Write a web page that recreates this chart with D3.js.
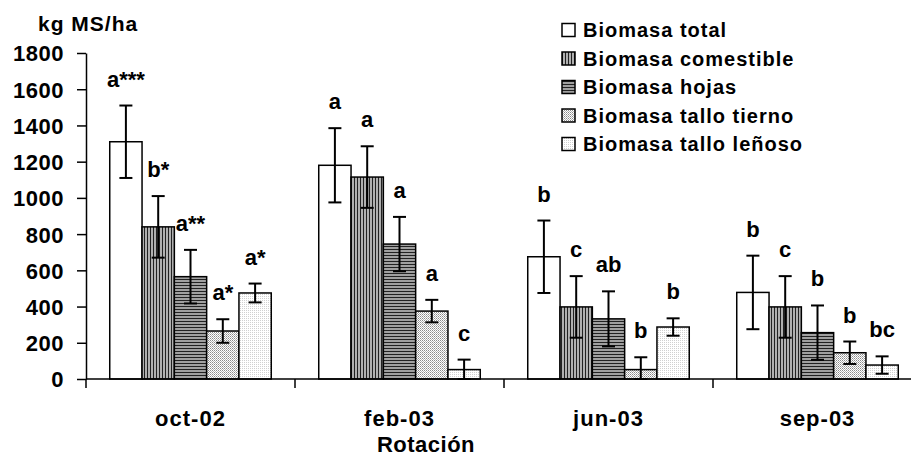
<!DOCTYPE html>
<html>
<head>
<meta charset="utf-8">
<script src="https://cdn.jsdelivr.net/npm/d3@7"></script>
<style>
  body{margin:0;background:#fff}
  text{font-family:"Liberation Sans",Arial,sans-serif;font-weight:bold;fill:#000}
</style>
</head>
<body>
<div id="chart"></div>
<script>
// data (kg MS/ha)
const dates=["oct-02","feb-03","jun-03","sep-03"]
const series=["Biomasa total","Biomasa comestible","Biomasa hojas","Biomasa tallo tierno","Biomasa tallo leñoso"]
const total=[1310,1180,675,478]
const totalErr=[200,205,200,203]
const comestible=[840,1115,398,398]
const comestibleErr=[170,170,170,170]
const hojas=[565,745,332,256]
const hojasErr=[148,150,152,150]
const tierno=[265,375,52,145]
const tiernoErr=[65,62,68,62]
const lenoso=[475,52,287,77]
const lenosoErr=[52,55,48,48]
const letters=[
  ["a***","a","b","b"],
  ["b*","a","c","c"],
  ["a**","a","ab","b"],
  ["a*","a","b","b"],
  ["a*","c","b","bc"]
]
const yTicks=[0,200,400,600,800,1000,1200,1400,1600,1800]

const values=[total,comestible,hojas,tierno,lenoso]
const errors=[totalErr,comestibleErr,hojasErr,tiernoErr,lenosoErr]
const fills=["#fff","url(#vert)","url(#horiz)","url(#dots)","url(#dotsLight)"]

let rows=[]
dates.forEach((d,i)=>{
  series.forEach((s,j)=>{
    rows.push({date:d,serie:s,value:values[j][i],err:errors[j][i],label:letters[j][i],fill:fills[j]})
  })
})

let width=911, height=457
let svg=d3.select("#chart").append("svg").attr("width",width).attr("height",height)

// patterns
let defs=svg.append("defs")
let pv=defs.append("pattern").attr("id","vert").attr("width",3).attr("height",3).attr("patternUnits","userSpaceOnUse")
pv.append("rect").attr("width",3).attr("height",3).attr("fill","#b0b0b0")
pv.append("rect").attr("width",1).attr("height",3).attr("fill","#222")
let ph=defs.append("pattern").attr("id","horiz").attr("width",3).attr("height",3).attr("patternUnits","userSpaceOnUse")
ph.append("rect").attr("width",3).attr("height",3).attr("fill","#a0a0a0")
ph.append("rect").attr("width",3).attr("height",1).attr("fill","#222")
let pd=defs.append("pattern").attr("id","dots").attr("width",2).attr("height",2).attr("patternUnits","userSpaceOnUse")
pd.append("rect").attr("width",2).attr("height",2).attr("fill","#fff")
pd.append("rect").attr("width",1).attr("height",1).attr("fill","#8a8a8a")
pd.append("rect").attr("x",1).attr("y",1).attr("width",1).attr("height",1).attr("fill","#b5b5b5")
let pl=defs.append("pattern").attr("id","dotsLight").attr("width",2).attr("height",2).attr("patternUnits","userSpaceOnUse")
pl.append("rect").attr("width",2).attr("height",2).attr("fill","#fff")
pl.append("rect").attr("width",1).attr("height",1).attr("fill","#d0d0d0")

// scales
let x0=d3.scaleBand().domain(dates).range([86,922]).padding(0)
let x1=d3.scaleBand().domain(series).range([0,x0.bandwidth()]).paddingInner(0).paddingOuter(0.735)
let y=d3.scaleLinear().domain([0,1800]).range([379,53])

// y axis
let axisY=d3.axisLeft(y).tickValues(yTicks).tickFormat(d3.format("d")).tickSize(9).tickSizeOuter(0).tickPadding(13)
let gy=svg.append("g").attr("transform","translate(86,0)").call(axisY)
gy.selectAll("text").style("font-size","22px").style("letter-spacing","0.5px").attr("dy","0.36em")
gy.selectAll("line,path").attr("stroke","#000").attr("stroke-width",1.5)

svg.append("text").attr("x",38).attr("y",31).text("kg MS/ha").style("font-size","21px").style("letter-spacing","1px")

// bars
let bars=svg.append("g")
bars.selectAll("rect").data(rows).enter().append("rect")
  .attr("x",d=>x0(d.date)+x1(d.serie))
  .attr("y",d=>y(d.value))
  .attr("width",x1.bandwidth())
  .attr("height",d=>y(0)-y(d.value))
  .attr("fill",d=>d.fill)
  .attr("stroke","#000").attr("stroke-width",1.5)

// error bars
let cap=6.5
let eb=svg.append("g").attr("stroke","#000").attr("stroke-width",2)
rows.forEach(d=>{
  let cx=x0(d.date)+x1(d.serie)+x1.bandwidth()/2
  let lo=Math.max(0,d.value-d.err)
  eb.append("line").attr("x1",cx).attr("x2",cx).attr("y1",y(d.value+d.err)).attr("y2",y(lo))
  eb.append("line").attr("x1",cx-cap).attr("x2",cx+cap).attr("y1",y(d.value+d.err)).attr("y2",y(d.value+d.err))
  eb.append("line").attr("x1",cx-cap).attr("x2",cx+cap).attr("y1",y(lo)).attr("y2",y(lo))
})

// significance letters
svg.append("g").selectAll("text").data(rows).enter().append("text")
  .attr("x",d=>x0(d.date)+x1(d.serie)+x1.bandwidth()/2)
  .attr("y",d=>y(d.value+d.err)-19)
  .attr("text-anchor","middle")
  .style("font-size","22px")
  .text(d=>d.label)

// x axis
let axisX=d3.axisBottom(x0).tickSize(0).tickPadding(31)
let gx=svg.append("g").attr("transform","translate(0,379)").call(axisX)
gx.select(".domain").remove()
gx.selectAll("text").style("font-size","22px").style("letter-spacing","1px")
svg.append("line").attr("x1",86).attr("x2",922).attr("y1",379).attr("y2",379).attr("stroke","#000").attr("stroke-width",1.5)
let bounds=dates.map(d=>x0(d)).concat([x0.range()[1]])
svg.append("g").selectAll("line").data(bounds).enter().append("line")
  .attr("x1",d=>d).attr("x2",d=>d).attr("y1",379).attr("y2",388)
  .attr("stroke","#000").attr("stroke-width",1.5)

svg.append("text").attr("x",426).attr("y",452).attr("text-anchor","middle").text("Rotación").style("font-size","22px").style("letter-spacing","0.5px")

// legend
let legend=svg.append("g").attr("transform","translate(562,0)")
series.forEach((s,i)=>{
  let cy=30+i*28.5
  legend.append("rect").attr("x",0).attr("y",cy-6.5).attr("width",13).attr("height",13).attr("fill",fills[i]).attr("stroke","#000").attr("stroke-width",1.5)
  legend.append("text").attr("x",21).attr("y",cy).attr("dy","0.36em").text(s).style("font-size","20px").style("letter-spacing","1px")
})
</script>
</body>
</html>
